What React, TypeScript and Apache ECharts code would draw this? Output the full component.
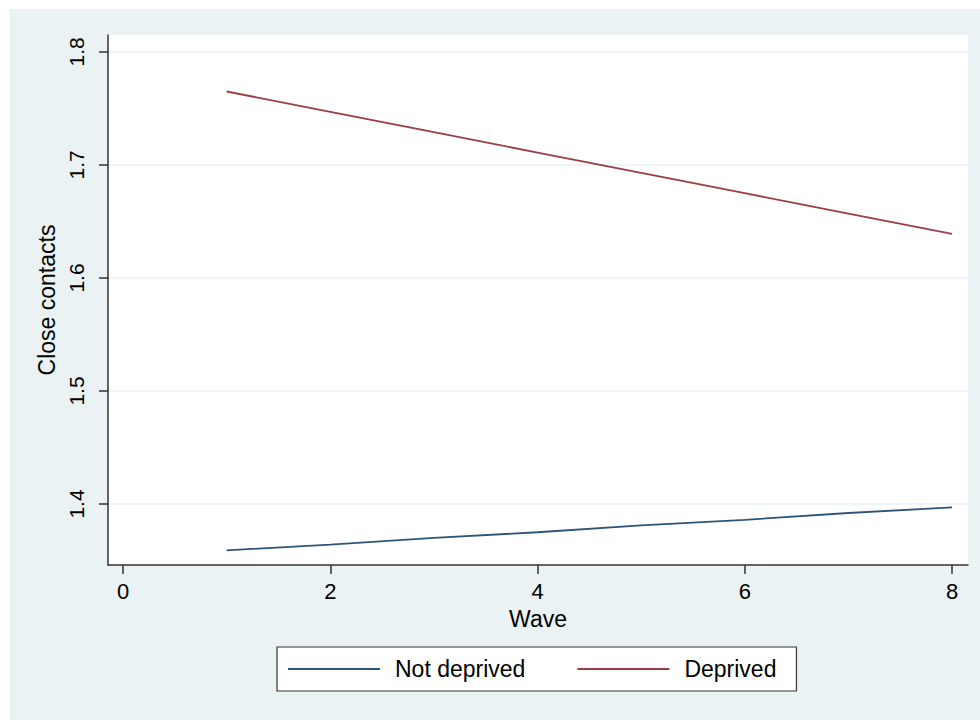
import React, { useEffect, useRef } from "react";
import * as echarts from "echarts";

const waves = [1, 2, 3, 4, 5, 6, 7, 8];
const notDeprived = [1.359, 1.364, 1.37, 1.375, 1.381, 1.386, 1.392, 1.397];
const deprived = [1.765, 1.747, 1.729, 1.711, 1.693, 1.675, 1.657, 1.639];
const xTicks = [0, 2, 4, 6, 8];
const yTicks = [1.4, 1.5, 1.6, 1.7, 1.8];
const seriesNames = ["Not deprived", "Deprived"];

const FONT = "'Liberation Sans', Arial, sans-serif";
const BG = "#EAF2F3";
const AXIS = "#333333";

export default function App() {
  const ref = useRef<HTMLDivElement>(null);
  useEffect(() => {
    if (!ref.current) return;
    const chart = echarts.init(ref.current, null, { renderer: "svg" });
    chart.setOption({
      animation: false,
      backgroundColor: BG,
      textStyle: { fontFamily: FONT, color: "#000" },
      graphic: [
        { type: "rect", shape: { x: 0, y: 0, width: 10, height: 720 }, style: { fill: "#fff" }, silent: true },
        { type: "rect", shape: { x: 0, y: 0, width: 980, height: 9 }, style: { fill: "#fff" }, silent: true },
      ],
      grid: {
        left: 108,
        right: 12,
        top: 35,
        bottom: 155,
        show: true,
        backgroundColor: "#fff",
        borderWidth: 0,
      },
      legend: {
        left: 277,
        top: 647,
        orient: "horizontal",
        backgroundColor: "#fff",
        borderColor: AXIS,
        borderWidth: 1.2,
        borderRadius: 0,
        padding: [10, 20, 10, 11],
        icon: "rect",
        itemWidth: 92,
        itemHeight: 2,
        itemGap: 52,
        textStyle: { fontFamily: FONT, fontSize: 23, color: "#000", padding: [0, 0, 0, 10], lineHeight: 24 },
        data: seriesNames,
      },
      xAxis: {
        type: "value",
        min: -0.145,
        max: 8.154,
        name: "Wave",
        nameLocation: "middle",
        nameGap: 42,
        nameTextStyle: { fontFamily: FONT, fontSize: 23, color: "#000" },
        axisLine: { show: true, onZero: false, lineStyle: { color: AXIS, width: 1.5 } },
        axisTick: { show: true, length: 9, lineStyle: { color: AXIS, width: 1.5 }, customValues: xTicks },
        axisLabel: { fontFamily: FONT, fontSize: 22, color: "#000", margin: 15, customValues: xTicks, formatter: (v: number) => String(v) },
        splitLine: { show: false },
      },
      yAxis: {
        type: "value",
        min: 1.346,
        max: 1.815,
        name: "Close contacts",
        nameLocation: "middle",
        nameRotate: 90,
        nameGap: 48,
        nameTextStyle: { fontFamily: FONT, fontSize: 23, color: "#000" },
        axisLine: { show: true, onZero: false, lineStyle: { color: AXIS, width: 1.5 } },
        axisTick: { show: true, length: 9, lineStyle: { color: AXIS, width: 1.5 }, customValues: yTicks },
        axisLabel: {
          fontFamily: FONT,
          fontSize: 21,
          color: "#000",
          rotate: 90,
          margin: 21,
          customValues: yTicks,
          formatter: (v: number) => Number(v).toFixed(1),
        },
        splitLine: { show: true, lineStyle: { color: BG, width: 1.5 } },
      },
      series: [
        {
          name: seriesNames[0],
          type: "line",
          symbol: "none",
          data: waves.map((w, i) => [w, notDeprived[i]]),
          lineStyle: { color: "#2f5479", width: 1.8 },
          itemStyle: { color: "#2f5479" },
        },
        {
          name: seriesNames[1],
          type: "line",
          symbol: "none",
          data: waves.map((w, i) => [w, deprived[i]]),
          lineStyle: { color: "#9a3e46", width: 1.8 },
          itemStyle: { color: "#9a3e46" },
        },
      ],
    });
    return () => chart.dispose();
  }, []);
  return <div ref={ref} style={{ position: "absolute", left: 0, top: 0, width: 980, height: 720 }} />;
}
